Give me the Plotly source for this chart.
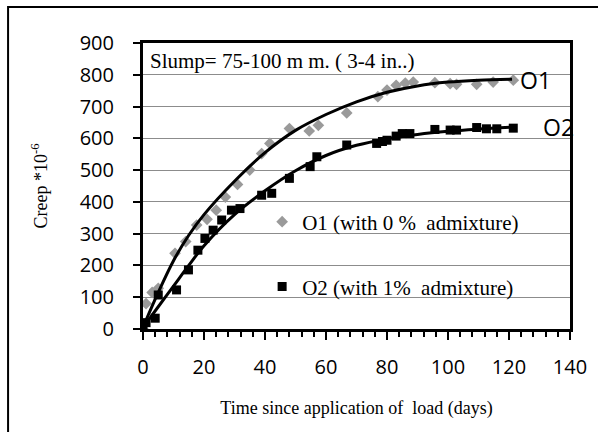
import plotly.graph_objects as go

# O1 (with 0 % admixture) - grey diamonds
o1_days = [0, 1, 3, 5, 10.5, 14, 17.6, 21, 24, 27, 31, 35, 38.9, 41.6, 48, 54.5, 57.5, 66.8, 77, 80, 83, 86, 88.6, 95.7, 100.7, 102.8, 109.4, 114.8, 121.4]
o1_creep = [0, 80, 115, 128, 238, 275, 327, 345, 374, 415, 455, 500, 552, 584, 631, 623, 641, 680, 731, 752, 767, 774, 777, 775, 772, 770, 770, 777, 783]

# O2 (with 1% admixture) - black squares
o2_days = [0, 1, 4, 5, 11, 14.9, 18, 20.3, 23, 25.8, 29, 31.8, 38.9, 42.2, 48, 54.8, 57, 66.8, 76.6, 78.5, 80, 83, 85, 87.5, 95.7, 100.7, 102.8, 109.4, 112.6, 116, 121.4]
o2_creep = [7, 20, 34, 107, 123, 186, 248, 285, 311, 343, 374, 379, 421, 427, 474, 511, 542, 579, 584, 590, 594, 607, 615, 615, 628, 626, 626, 634, 630, 630, 632]

# Trend curves
fit_days = [0, 5, 10, 15, 20, 30, 40, 50, 60, 70, 80, 90, 100, 110, 121]
o1_fit = [5, 115, 215, 295, 360, 465, 555, 625, 675, 715, 745, 765, 777, 783, 786]
o2_fit = [5, 70, 135, 200, 262, 360, 435, 498, 546, 578, 598, 612, 622, 629, 635]

x_ticks = [0, 20, 40, 60, 80, 100, 120, 140]
y_ticks = [0, 100, 200, 300, 400, 500, 600, 700, 800, 900]

serif = "Liberation Serif, Times New Roman, serif"
sans = "Open Sans, sans-serif"

fig = go.Figure()
fig.add_trace(go.Scatter(x=o1_days, y=o1_creep, mode="markers", name="O1 (with 0 %  admixture)",
                         marker=dict(symbol="diamond", size=9, color="#9a9a9a"), legend="legend"))
fig.add_trace(go.Scatter(x=o2_days, y=o2_creep, mode="markers", name="O2 (with 1%  admixture)",
                         marker=dict(symbol="square", size=9, color="#000000"), legend="legend2"))
fig.add_trace(go.Scatter(x=fit_days, y=o1_fit, mode="lines", line=dict(color="black", width=3, shape="spline"),
                         showlegend=False))
fig.add_trace(go.Scatter(x=fit_days, y=o2_fit, mode="lines", line=dict(color="black", width=3, shape="spline"),
                         showlegend=False))

fig.update_layout(
    width=598, height=432,
    margin=dict(l=143, r=28, t=43, b=103, autoexpand=False),
    paper_bgcolor="white", plot_bgcolor="white",
    legend=dict(x=0.279, y=0.374, xanchor="left", yanchor="middle", bgcolor="rgba(0,0,0,0)",
                font=dict(family=serif, size=21, color="black"), itemwidth=30),
    legend2=dict(x=0.279, y=0.147, xanchor="left", yanchor="middle", bgcolor="rgba(0,0,0,0)",
                 font=dict(family=serif, size=21, color="black"), itemwidth=30),
    xaxis=dict(range=[0, 140], tickvals=x_ticks, ticktext=[str(v) for v in x_ticks], automargin=False,
               showgrid=False, zeroline=False, showline=True, linecolor="black", linewidth=3, mirror=True,
               ticks="outside", ticklen=8, tickwidth=2, tickcolor="black", ticklabelstandoff=10,
               minor=dict(dtick=4, ticks="outside", ticklen=5, tickwidth=1.5, tickcolor="black", showgrid=False),
               tickfont=dict(family=sans, size=20, color="black"),
               title=dict(text="Time since application of  load (days)", font=dict(family=serif, size=18, color="black"), standoff=23)),
    yaxis=dict(range=[0, 900], tickvals=y_ticks, ticktext=[str(v) for v in y_ticks], automargin=False,
               showgrid=True, gridcolor="#8c8c8c", gridwidth=1, zeroline=False,
               showline=True, linecolor="black", linewidth=3, mirror=True,
               ticks="outside", ticklen=7, tickwidth=2, tickcolor="black", ticklabelstandoff=15,
               tickfont=dict(family=sans, size=20, color="black"),
               title=dict(text="Creep *10<sup>-6</sup>", font=dict(family=serif, size=18, color="black"), standoff=28)),
    annotations=[
        dict(x=0.012, y=0.985, xref="paper", yref="paper", xanchor="left", yanchor="top", showarrow=False,
             text="Slump= 75-100 m m. ( 3-4 in..)", font=dict(family=serif, size=21, color="black")),
        dict(x=123, y=783, xref="x", yref="y", xanchor="left", yanchor="middle", showarrow=False,
             text="O1", font=dict(family=sans, size=23, color="black")),
        dict(x=130.5, y=635, xref="x", yref="y", xanchor="left", yanchor="middle", showarrow=False,
             text="O2", font=dict(family=sans, size=23, color="black")),
    ],
    shapes=[dict(type="rect", xref="paper", yref="paper", x0=-0.316, x1=1.08, y0=-0.38, y1=1.126,
                 line=dict(color="black", width=2), fillcolor="rgba(0,0,0,0)", layer="below")],
)

fig.write_html("out.html", config={"displayModeBar": False},
               post_script="document.body.style.margin='0';")
